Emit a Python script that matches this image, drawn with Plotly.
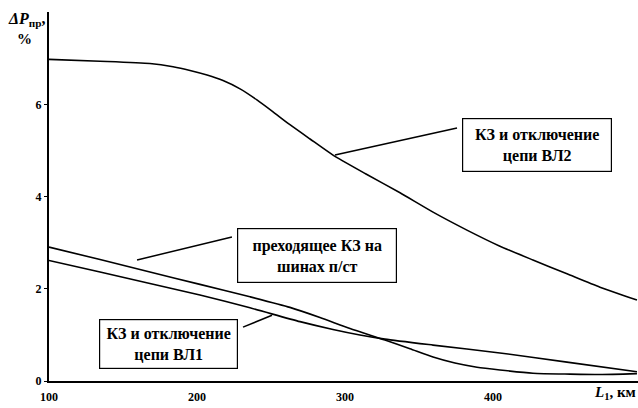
import plotly.graph_objects as go

# Data
x_vl2 = [100, 134.5, 168.2, 183.8, 195.3, 206.8, 217.6, 229.1, 240.5, 251.4, 262.8, 276.4,
         291.9, 314.2, 337.2, 359.5, 382.4, 404.7, 427.0, 450.0, 472.3, 497.3]
y_vl2 = [6.99, 6.95, 6.90, 6.83, 6.75, 6.65, 6.53, 6.35, 6.11, 5.85, 5.57, 5.26,
         4.91, 4.50, 4.09, 3.67, 3.28, 2.93, 2.63, 2.33, 2.04, 1.76]

x_pk = [100, 134.5, 168.2, 202.0, 235.8, 262.8, 283.1, 303.4, 327.0, 343.9, 359.5,
        374.3, 389.2, 404.7, 427.0, 452.0, 472.3, 497.3]
y_pk = [2.91, 2.64, 2.37, 2.10, 1.83, 1.60, 1.38, 1.14, 0.89, 0.70, 0.52,
        0.39, 0.30, 0.24, 0.17, 0.15, 0.14, 0.16]

x_vl1 = [100, 134.5, 168.2, 202.0, 235.8, 269.6, 291.9, 310.1, 327.0, 359.5, 404.7, 450.0, 497.3]
y_vl1 = [2.62, 2.37, 2.12, 1.87, 1.59, 1.29, 1.12, 1.00, 0.91, 0.78, 0.61, 0.41, 0.20]

x_ticks = [100, 200, 300, 400]
y_ticks = [0, 2, 4, 6]

label_vl2 = "КЗ и отключение<br>цепи ВЛ2"
label_pk = "преходящее КЗ на<br>шинах п/ст"
label_vl1 = "КЗ и отключение<br>цепи ВЛ1"

FONT = "Liberation Serif"

fig = go.Figure()
line_style = dict(color="black", width=1.6, shape="spline", smoothing=0.6)
for xs, ys in [(x_vl2, y_vl2), (x_pk, y_pk), (x_vl1, y_vl1)]:
    fig.add_trace(go.Scatter(x=xs, y=ys, mode="lines", line=line_style,
                             showlegend=False, hoverinfo="skip"))

# leader lines (from curve to label box)
leaders = [((293.2, 4.91), (375.7, 5.50)),
           ((159.5, 2.63), (223.6, 3.13)),
           ((250.7, 1.43), (231.1, 1.17))]
for (x0, y0), (x1, y1) in leaders:
    fig.add_shape(type="line", x0=x0, y0=y0, x1=x1, y1=y1, xref="x", yref="y",
                  line=dict(color="black", width=1.5))

# label boxes
boxes = [(label_vl2, 429.7, 5.13, 148, 52),
         (label_pk, 281.1, 2.73, 158, 53),
         (label_vl1, 180.7, 0.80, 137, 48)]
for txt, bx, by, w, h in boxes:
    fig.add_annotation(x=bx, y=by, xref="x", yref="y", text="<b>" + txt + "</b>",
                       showarrow=False, width=w, height=h, borderpad=0,
                       bordercolor="black", borderwidth=1.2, bgcolor="white",
                       align="center", valign="middle",
                       font=dict(family=FONT, size=16, color="black"))

# axis titles
fig.add_annotation(x=-0.073, y=1.012, xref="paper", yref="paper", showarrow=False,
                   xanchor="left", yanchor="top",
                   text="<b><i>ΔP</i><sub>пр</sub>,</b>",
                   font=dict(family=FONT, size=16, color="black"))
fig.add_annotation(x=-0.041, y=0.927, xref="paper", yref="paper", showarrow=False,
                   xanchor="center", yanchor="middle", text="<b>%</b>",
                   font=dict(family=FONT, size=15, color="black"))
fig.add_annotation(x=1.0, y=-0.062, xref="paper", yref="paper", showarrow=False,
                   xanchor="right", yanchor="bottom",
                   text="<b><i>L</i><sub>1</sub>, км</b>",
                   font=dict(family=FONT, size=15, color="black"))

fig.update_xaxes(range=[100, 498], tickvals=x_ticks, ticktext=[f"<b>{v}</b>" for v in x_ticks],
                 showgrid=False, zeroline=False, showline=True, linecolor="black", linewidth=2,
                 ticks="", tickfont=dict(family=FONT, size=12, color="black"), ticklabelstandoff=4)
fig.update_yaxes(range=[0, 8.02], tickvals=y_ticks, ticktext=[f"<b>{v}</b>" for v in y_ticks],
                 showgrid=False, zeroline=False, showline=True, linecolor="black", linewidth=2,
                 ticks="outside", ticklen=3, tickwidth=1, tickcolor="black",
                 tickfont=dict(family=FONT, size=12, color="black"))

fig.update_layout(width=638, height=408, margin=dict(l=49, r=0, t=12, b=27),
                  plot_bgcolor="white", paper_bgcolor="white",
                  font=dict(family=FONT, color="black"))

fig.write_html("out.html", config={"displayModeBar": False},
               post_script="document.body.style.margin='0px';")
